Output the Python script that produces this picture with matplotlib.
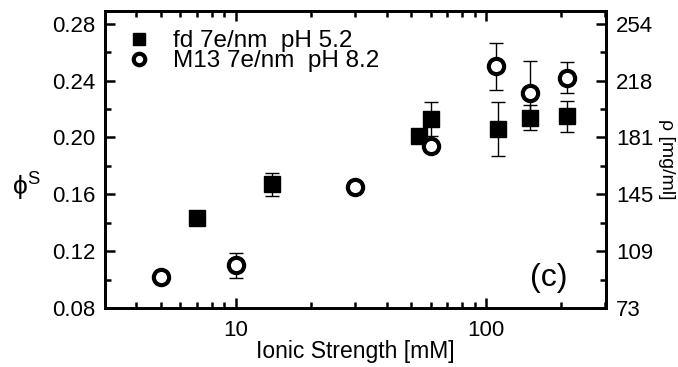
import matplotlib
matplotlib.use('Agg')
import matplotlib.pyplot as plt
from matplotlib.ticker import FixedLocator, FixedFormatter, NullFormatter, LogLocator

plt.rcParams['font.family'] = ['Liberation Sans', 'DejaVu Sans']

# fd 7e/nm pH 5.2
fd_x = [7, 14, 54, 60, 112, 150, 210]
fd_y = [0.143, 0.167, 0.201, 0.213, 0.206, 0.214, 0.215]
fd_err = [0.0, 0.008, 0.0, 0.012, 0.019, 0.009, 0.011]

# M13 7e/nm pH 8.2
m13_x = [5, 10, 30, 60, 110, 150, 210]
m13_y = [0.102, 0.110, 0.165, 0.194, 0.250, 0.2315, 0.242]
m13_err = [0.002, 0.009, 0.002, 0.0, 0.0165, 0.022, 0.011]

yticks = [0.08, 0.12, 0.16, 0.20, 0.24, 0.28]
rho_labels = ['73', '109', '145', '181', '218', '254']

fig = plt.figure(figsize=(6.78, 3.67), dpi=100)
ax = fig.add_axes([0.155, 0.161, 0.739, 0.809])

# error bars first, markers on top
ax.errorbar(fd_x, fd_y, yerr=fd_err, fmt='none', ecolor='black',
            elinewidth=1, capsize=5, capthick=1, zorder=2)
ax.errorbar(m13_x, m13_y, yerr=m13_err, fmt='none', ecolor='black',
            elinewidth=1, capsize=5, capthick=1, zorder=2)
ax.plot(fd_x, fd_y, 's', color='black', ms=12, zorder=3,
        label='fd 7e/nm  pH 5.2')
ax.plot(m13_x, m13_y, 'o', mfc='white', mec='black', mew=3, ms=11, zorder=3,
        label='M13 7e/nm  pH 8.2')

ax.set_xscale('log')
ax.set_xlim(3, 302)
ax.set_ylim(0.08, 0.289)
ax.set_yticks(yticks)
ax.set_yticklabels(['%.2f' % t for t in yticks])
ax.yaxis.set_minor_locator(FixedLocator([0.10, 0.14, 0.18, 0.22, 0.26]))
ax.xaxis.set_major_locator(FixedLocator([10, 100]))
ax.xaxis.set_major_formatter(FixedFormatter(['10', '100']))
ax.xaxis.set_minor_locator(LogLocator(base=10, subs=range(2, 10)))
ax.xaxis.set_minor_formatter(NullFormatter())

for s in ax.spines.values():
    s.set_linewidth(2)
ax.tick_params(which='both', direction='in', top=True, labelsize=16, width=1.8)
ax.tick_params(which='major', length=7)
ax.tick_params(which='minor', length=4)
ax.tick_params(axis='x', which='major', pad=9)
ax.tick_params(axis='y', which='major', pad=7)
ax.tick_params(axis='y', right=False)

ax2 = ax.twinx()
ax2.set_ylim(ax.get_ylim())
ax2.set_yticks(yticks)
ax2.set_yticklabels(rho_labels)
ax2.yaxis.set_minor_locator(FixedLocator([0.10, 0.14, 0.18, 0.22, 0.26]))
ax2.tick_params(which='both', direction='in', labelsize=16, width=1.8)
ax2.tick_params(which='major', length=7, pad=7)
ax2.tick_params(which='minor', length=4)
for s in ax2.spines.values():
    s.set_linewidth(2)
ax2.set_ylabel('ρ [mg/ml]', fontsize=14, rotation=270, labelpad=16)

ax.set_xlabel('Ionic Strength [mM]', fontsize=16.5, labelpad=-1)
# horizontal phi^S label on the left
fig.text(0.038, 0.49, r'$\mathregular{\phi^S}$', fontsize=19,
         ha='center', va='center')

ax.legend(loc='upper left', bbox_to_anchor=(0.022, 0.968), frameon=False,
          fontsize=17.5, handletextpad=0.85, borderaxespad=0,
          labelspacing=-0.08, handlelength=1.1, markerscale=0.75)
ax.text(0.885, 0.10, '(c)', transform=ax.transAxes, fontsize=23,
        ha='center', va='center')

fig.savefig('out.png', dpi=100)
